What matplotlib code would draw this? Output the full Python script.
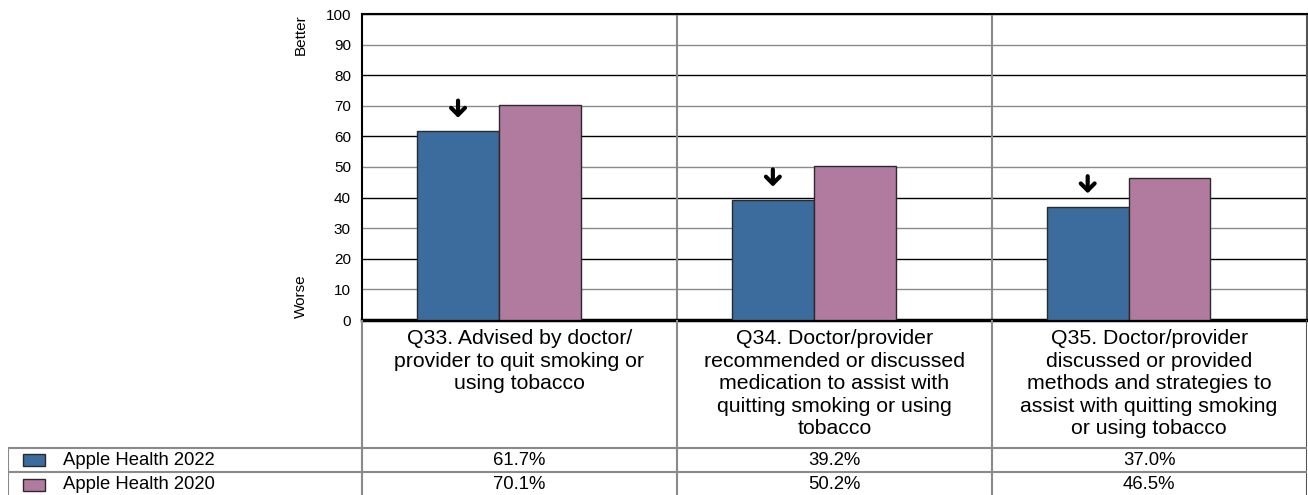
import matplotlib.pyplot as plt
from matplotlib.patches import Rectangle

plt.rcParams['font.family'] = ['Liberation Sans', 'DejaVu Sans']

categories = [
    "Q33. Advised by doctor/\nprovider to quit smoking or\nusing tobacco",
    "Q34. Doctor/provider\nrecommended or discussed\nmedication to assist with\nquitting smoking or using\ntobacco",
    "Q35. Doctor/provider\ndiscussed or provided\nmethods and strategies to\nassist with quitting smoking\nor using tobacco",
]
series_names = ["Apple Health 2022", "Apple Health 2020"]
values_2022 = [61.7, 39.2, 37.0]
values_2020 = [70.1, 50.2, 46.5]
arrow_down = [True, True, True]  # 2022 lower than 2020
yticks = list(range(0, 101, 10))

blue = '#3b6c9d'
pink = '#b17a9f'
edge = '#2a2a2a'
grey = '#8a8a8a'

W, H = 1308, 495
fig = plt.figure(figsize=(W / 100, H / 100), dpi=100)

# pixel layout
px_left, px_right, px_top, px_zero = 362, 1306.5, 14, 320
px_tab_left = 7.5

ax = fig.add_axes([px_left / W, (H - px_zero) / H, (px_right - px_left) / W, (px_zero - px_top) / H])
x = list(range(len(categories)))
bw = 0.26
shift = -0.065
ax.bar([i + shift - bw / 2 for i in x], values_2022, bw, color=blue, edgecolor=edge, linewidth=1, zorder=3)
ax.bar([i + shift + bw / 2 for i in x], values_2020, bw, color=pink, edgecolor=edge, linewidth=1, zorder=3)

for i, v in enumerate(values_2022):
    if arrow_down[i]:
        xa = i + shift - bw / 2
        ax.annotate('', xy=(xa, v + 4.4), xytext=(xa, v + 10),
                    arrowprops=dict(arrowstyle='->, head_width=0.5, head_length=0.5',
                                    lw=3.0, color='black', shrinkA=0, shrinkB=0), zorder=4)

ax.set_xlim(-0.5, len(categories) - 0.5)
ax.set_ylim(0, 100)
ax.set_yticks(yticks)
ax.set_xticks([])
ax.tick_params(axis='y', length=0, pad=8, labelsize=11)
ax.yaxis.grid(True, lw=1.0, zorder=0)
for t, gl in zip(yticks, ax.get_ygridlines()):
    gl.set_color('black' if t % 20 == 0 else grey)
for xv in [0.5, 1.5]:
    ax.axvline(xv, color=grey, lw=1.5, zorder=1)
ax.set_axisbelow(True)

ax.spines['bottom'].set_linewidth(2.5)
ax.spines['top'].set_linewidth(1.5)
ax.spines['left'].set_linewidth(1.5)
ax.spines['right'].set_color('#555555')
ax.spines['right'].set_linewidth(1.5)

bx = (300.5 - px_left) / (px_right - px_left)
ax.text(bx, 100, 'Better', rotation=90, ha='center', va='top', fontsize=11,
        transform=ax.get_yaxis_transform())
ax.text(bx, 0.7, 'Worse', rotation=90, ha='center', va='bottom', fontsize=11,
        transform=ax.get_yaxis_transform())

# lower area: category labels and data table
unit = (px_right - px_left) / len(categories)
x_min = -0.5 - (px_left - px_tab_left) / unit
ax2 = fig.add_axes([px_tab_left / W, 0, (px_right - px_tab_left) / W, (H - px_zero) / H])
ax2.set_xlim(x_min, len(categories) - 0.5)
ax2.set_ylim(H - px_zero, 0)
ax2.axis('off')

tab_top, row_h = 127.5, 24.5
for xv in [-0.5, 0.5, 1.5]:
    ax2.plot([xv, xv], [0, H - px_zero], color=grey, lw=1.5)
ax2.plot([len(categories) - 0.5] * 2, [0, H - px_zero], color='#555555', lw=1.5)
ax2.plot([x_min, x_min], [tab_top, H - px_zero], color=grey, lw=1.5)
for r in range(2):
    ax2.plot([x_min, len(categories) - 0.5], [tab_top + r * row_h] * 2, color=grey, lw=1.5)

for i, lab in enumerate(categories):
    ax2.text(i, 9, lab, ha='center', va='top', fontsize=15.3, linespacing=1.24)

for r, (name, vals, col) in enumerate(zip(series_names, [values_2022, values_2020], [blue, pink])):
    yc = tab_top + r * row_h + row_h / 2 + 0.5
    sx = x_min + (23 - px_tab_left) / unit
    ax2.add_patch(Rectangle((sx, yc - 6), 22 / unit, 12, facecolor=col, edgecolor=edge, lw=1))
    ax2.text(x_min + (63 - px_tab_left) / unit, yc, name, ha='left', va='center', fontsize=13.3)
    for i, v in enumerate(vals):
        ax2.text(i, yc, f"{v:.1f}%", ha='center', va='center', fontsize=13.3)

fig.savefig('out.png', dpi=100)
